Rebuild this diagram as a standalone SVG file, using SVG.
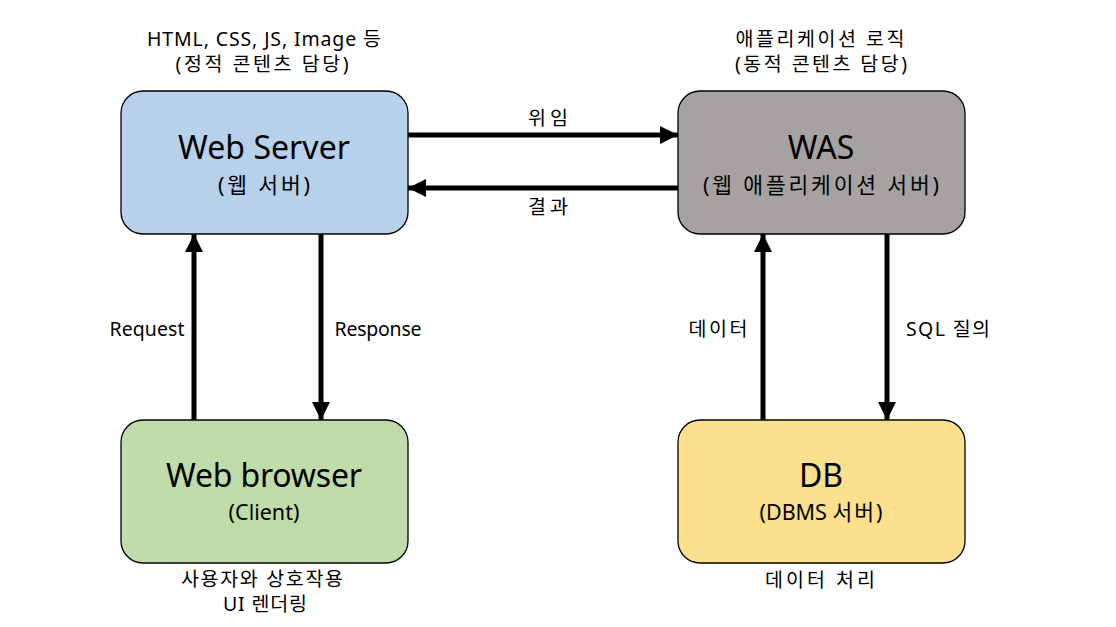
<svg xmlns="http://www.w3.org/2000/svg" width="1116" height="627" viewBox="0 0 1116 627">
<style>
text{font-family:"Noto Sans","Noto Sans CJK KR",sans-serif;fill:#000;text-anchor:middle}
.box{stroke:#000;stroke-width:1.3}
.t{font-size:32px}
.s{font-size:21.5px}
.l{font-size:19.5px}
.k{letter-spacing:2px}
.c{stroke:#000;stroke-width:5;fill:none}
</style>
<defs>
<marker id="ah" viewBox="0 0 18 18" refX="18" refY="9" markerWidth="18" markerHeight="18" markerUnits="userSpaceOnUse" orient="auto">
<path d="M0,0 L18,9 L0,18 Z" fill="#000"/>
</marker>
</defs>
<rect width="1116" height="627" fill="#fff"/>
<g id="connectors">
<line class="c" x1="408" y1="135" x2="678" y2="135" marker-end="url(#ah)"/>
<line class="c" x1="678" y1="188" x2="408" y2="188" marker-end="url(#ah)"/>
<line class="c" x1="194" y1="420" x2="194" y2="234" marker-end="url(#ah)"/>
<line class="c" x1="321" y1="234" x2="321" y2="420" marker-end="url(#ah)"/>
<line class="c" x1="763" y1="420" x2="763" y2="234" marker-end="url(#ah)"/>
<line class="c" x1="887" y1="234" x2="887" y2="420" marker-end="url(#ah)"/>
<text class="l" x="548" y="125" textLength="40" lengthAdjust="spacing">위임</text>
<text class="l" x="548" y="214" textLength="40" lengthAdjust="spacing">결과</text>
<text class="l" x="147" y="336" textLength="75" lengthAdjust="spacing">Request</text>
<text class="l" x="378" y="336" textLength="87" lengthAdjust="spacing">Response</text>
<text class="l" x="718" y="336" textLength="59" lengthAdjust="spacing">데이터</text>
<text class="l" x="948" y="336" textLength="84" lengthAdjust="spacing">SQL 질의</text>
</g>
<g id="webserver">
<rect class="box" x="121" y="91" width="287" height="143" rx="22" fill="#b7d1ea"/>
<text class="t" x="264" y="159" textLength="172" lengthAdjust="spacing">Web Server</text>
<text class="s" x="264" y="193" textLength="92" lengthAdjust="spacing">(웹 서버)</text>
<text class="l" x="264" y="46" textLength="234" lengthAdjust="spacing">HTML, CSS, JS, Image 등</text>
<text class="l" x="262" y="71" textLength="173" lengthAdjust="spacing">(정적 콘텐츠 담당)</text>
</g>
<g id="was">
<rect class="box" x="678" y="91" width="287" height="143" rx="22" fill="#a6a2a1"/>
<text class="t" x="821" y="159">WAS</text>
<text class="s" x="821" y="193" textLength="236" lengthAdjust="spacing">(웹 애플리케이션 서버)</text>
<text class="l" x="820" y="46" textLength="169" lengthAdjust="spacing">애플리케이션 로직</text>
<text class="l" x="821" y="71" textLength="172" lengthAdjust="spacing">(동적 콘텐츠 담당)</text>
</g>
<g id="browser">
<rect class="box" x="121" y="420" width="287" height="143" rx="22" fill="#bfdcaa"/>
<text class="t" x="264" y="487" textLength="196" lengthAdjust="spacing">Web browser</text>
<text class="s" x="264" y="520">(Client)</text>
<text class="l" x="262" y="586" textLength="162" lengthAdjust="spacing">사용자와 상호작용</text>
<text class="l" x="265" y="611" textLength="84" lengthAdjust="spacing">UI 렌더링</text>
</g>
<g id="db">
<rect class="box" x="678" y="420" width="287" height="143" rx="22" fill="#fde08e"/>
<text class="t" x="821" y="487">DB</text>
<text class="s" x="821" y="520">(DBMS <tspan class="k">서버</tspan>)</text>
<text class="l" x="820" y="587" textLength="110" lengthAdjust="spacing">데이터 처리</text>
</g>
</svg>
